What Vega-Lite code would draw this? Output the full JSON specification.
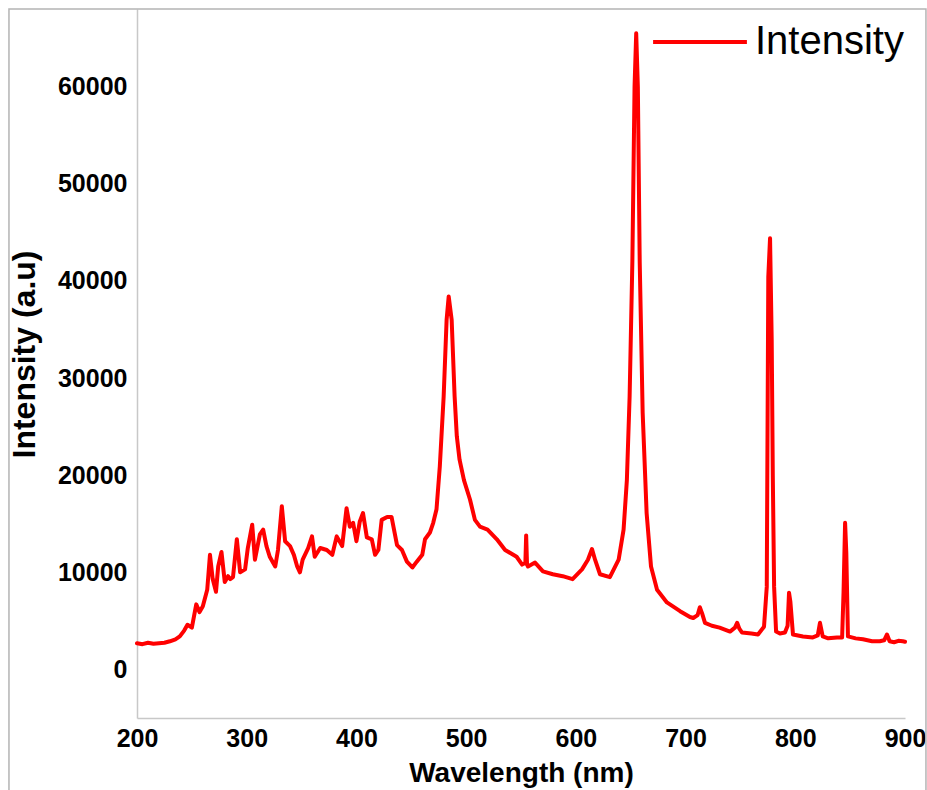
{
  "$schema": "https://vega.github.io/schema/vega-lite/v6.json",
  "width": 768,
  "height": 709,
  "autosize": {"type": "none"},
  "padding": {"left": 137, "top": 9, "right": 22, "bottom": 72},
  "background": "white",
  "config": {"view": {"stroke": null}, "font": "Liberation Sans"},
  "layer": [
    {
      "data": {"values": [{}]},
      "mark": {"type": "rect", "fill": "transparent", "stroke": "#b4b4b4", "strokeWidth": 1.5},
      "encoding": {
        "x": {"datum": 83.3, "type": "quantitative"},
        "x2": {"datum": 919.1},
        "y": {"datum": 68000, "type": "quantitative"},
        "y2": {"datum": -20000}
      }
    },
    {
      "data": {"values": [
        {"wavelength": 200, "intensity": 2700},
        {"wavelength": 205, "intensity": 2600},
        {"wavelength": 210, "intensity": 2750},
        {"wavelength": 215, "intensity": 2650},
        {"wavelength": 220, "intensity": 2700},
        {"wavelength": 225, "intensity": 2750},
        {"wavelength": 230, "intensity": 2900},
        {"wavelength": 235, "intensity": 3100},
        {"wavelength": 239, "intensity": 3400},
        {"wavelength": 243, "intensity": 4000},
        {"wavelength": 246, "intensity": 4600},
        {"wavelength": 250, "intensity": 4300},
        {"wavelength": 254, "intensity": 6700},
        {"wavelength": 257, "intensity": 5900},
        {"wavelength": 260, "intensity": 6500},
        {"wavelength": 264, "intensity": 8200},
        {"wavelength": 266.5, "intensity": 11800},
        {"wavelength": 269, "intensity": 9300},
        {"wavelength": 272, "intensity": 8000},
        {"wavelength": 274, "intensity": 10600},
        {"wavelength": 277, "intensity": 12100},
        {"wavelength": 280, "intensity": 9000},
        {"wavelength": 283, "intensity": 9600},
        {"wavelength": 285, "intensity": 9300},
        {"wavelength": 287.5, "intensity": 9500},
        {"wavelength": 291, "intensity": 13400},
        {"wavelength": 294, "intensity": 10000},
        {"wavelength": 298.5, "intensity": 10300},
        {"wavelength": 301, "intensity": 12500},
        {"wavelength": 305, "intensity": 14900},
        {"wavelength": 307.5, "intensity": 11300},
        {"wavelength": 312, "intensity": 13900},
        {"wavelength": 315, "intensity": 14400},
        {"wavelength": 318, "intensity": 12700},
        {"wavelength": 321, "intensity": 11600},
        {"wavelength": 326, "intensity": 10600},
        {"wavelength": 328.5, "intensity": 12300},
        {"wavelength": 332, "intensity": 16800},
        {"wavelength": 335, "intensity": 13200},
        {"wavelength": 339.5, "intensity": 12700},
        {"wavelength": 343, "intensity": 11800},
        {"wavelength": 346, "intensity": 10600},
        {"wavelength": 348.5, "intensity": 10000},
        {"wavelength": 351, "intensity": 11300},
        {"wavelength": 356, "intensity": 12500},
        {"wavelength": 359.5, "intensity": 13700},
        {"wavelength": 362, "intensity": 11600},
        {"wavelength": 367, "intensity": 12500},
        {"wavelength": 373, "intensity": 12300},
        {"wavelength": 378, "intensity": 11800},
        {"wavelength": 382, "intensity": 13700},
        {"wavelength": 387, "intensity": 12700},
        {"wavelength": 391, "intensity": 16600},
        {"wavelength": 394, "intensity": 14700},
        {"wavelength": 397, "intensity": 15100},
        {"wavelength": 400, "intensity": 13200},
        {"wavelength": 403, "intensity": 15200},
        {"wavelength": 406, "intensity": 16100},
        {"wavelength": 409.5, "intensity": 13600},
        {"wavelength": 414, "intensity": 13400},
        {"wavelength": 417, "intensity": 11800},
        {"wavelength": 420, "intensity": 12300},
        {"wavelength": 423, "intensity": 15400},
        {"wavelength": 428, "intensity": 15700},
        {"wavelength": 432, "intensity": 15700},
        {"wavelength": 437, "intensity": 12800},
        {"wavelength": 441.5, "intensity": 12300},
        {"wavelength": 446, "intensity": 11100},
        {"wavelength": 451, "intensity": 10500},
        {"wavelength": 455, "intensity": 11100},
        {"wavelength": 460, "intensity": 11800},
        {"wavelength": 462.5, "intensity": 13400},
        {"wavelength": 467, "intensity": 14100},
        {"wavelength": 470, "intensity": 15100},
        {"wavelength": 473, "intensity": 16500},
        {"wavelength": 476, "intensity": 20900},
        {"wavelength": 479.5, "intensity": 28100},
        {"wavelength": 482.2, "intensity": 36000},
        {"wavelength": 484.1, "intensity": 38400},
        {"wavelength": 486.8, "intensity": 36000},
        {"wavelength": 489.5, "intensity": 28100},
        {"wavelength": 491.5, "intensity": 24000},
        {"wavelength": 494, "intensity": 21600},
        {"wavelength": 498, "intensity": 19500},
        {"wavelength": 503.5, "intensity": 17500},
        {"wavelength": 508, "intensity": 15400},
        {"wavelength": 512.6, "intensity": 14700},
        {"wavelength": 519.5, "intensity": 14400},
        {"wavelength": 528, "intensity": 13400},
        {"wavelength": 535.5, "intensity": 12300},
        {"wavelength": 546, "intensity": 11600},
        {"wavelength": 551, "intensity": 10800},
        {"wavelength": 554, "intensity": 11000},
        {"wavelength": 554.7, "intensity": 13800},
        {"wavelength": 555.5, "intensity": 10800},
        {"wavelength": 556.4, "intensity": 10600},
        {"wavelength": 562.8, "intensity": 11000},
        {"wavelength": 570, "intensity": 10100},
        {"wavelength": 579, "intensity": 9800},
        {"wavelength": 588, "intensity": 9600},
        {"wavelength": 597, "intensity": 9300},
        {"wavelength": 605.6, "intensity": 10300},
        {"wavelength": 611, "intensity": 11300},
        {"wavelength": 614.7, "intensity": 12400},
        {"wavelength": 617.5, "intensity": 11300},
        {"wavelength": 622, "intensity": 9800},
        {"wavelength": 631, "intensity": 9500},
        {"wavelength": 639, "intensity": 11300},
        {"wavelength": 643.5, "intensity": 14400},
        {"wavelength": 646.5, "intensity": 19500},
        {"wavelength": 649, "intensity": 28100},
        {"wavelength": 651.5, "intensity": 42000},
        {"wavelength": 653.5, "intensity": 60000},
        {"wavelength": 655, "intensity": 65500},
        {"wavelength": 656.5, "intensity": 60000},
        {"wavelength": 658.2, "intensity": 42000},
        {"wavelength": 660.9, "intensity": 26400},
        {"wavelength": 664.5, "intensity": 16100},
        {"wavelength": 668.5, "intensity": 10600},
        {"wavelength": 674, "intensity": 8200},
        {"wavelength": 683, "intensity": 6900},
        {"wavelength": 695, "intensity": 6000},
        {"wavelength": 704, "intensity": 5400},
        {"wavelength": 707, "intensity": 5300},
        {"wavelength": 711, "intensity": 5600},
        {"wavelength": 713, "intensity": 6400},
        {"wavelength": 715, "intensity": 5800},
        {"wavelength": 717.7, "intensity": 4800},
        {"wavelength": 724, "intensity": 4500},
        {"wavelength": 731, "intensity": 4300},
        {"wavelength": 740.5, "intensity": 3900},
        {"wavelength": 745, "intensity": 4300},
        {"wavelength": 747, "intensity": 4800},
        {"wavelength": 749, "intensity": 4200},
        {"wavelength": 751.5, "intensity": 3800},
        {"wavelength": 760, "intensity": 3700},
        {"wavelength": 766, "intensity": 3600},
        {"wavelength": 771.5, "intensity": 4400},
        {"wavelength": 774, "intensity": 8500},
        {"wavelength": 775.4, "intensity": 40400},
        {"wavelength": 777, "intensity": 44400},
        {"wavelength": 778.5, "intensity": 34000},
        {"wavelength": 779.5, "intensity": 20000},
        {"wavelength": 780.7, "intensity": 8500},
        {"wavelength": 782.5, "intensity": 3900},
        {"wavelength": 786, "intensity": 3700},
        {"wavelength": 790.6, "intensity": 3800},
        {"wavelength": 793, "intensity": 4500},
        {"wavelength": 794.3, "intensity": 7900},
        {"wavelength": 795.5, "intensity": 7000},
        {"wavelength": 797.9, "intensity": 3600},
        {"wavelength": 807, "intensity": 3400},
        {"wavelength": 816, "intensity": 3300},
        {"wavelength": 820.5, "intensity": 3500},
        {"wavelength": 822.5, "intensity": 4800},
        {"wavelength": 825, "intensity": 3400},
        {"wavelength": 830, "intensity": 3200},
        {"wavelength": 838, "intensity": 3300},
        {"wavelength": 842.7, "intensity": 3300},
        {"wavelength": 844, "intensity": 8000},
        {"wavelength": 845.4, "intensity": 15100},
        {"wavelength": 846.5, "intensity": 12000},
        {"wavelength": 848, "intensity": 3400},
        {"wavelength": 855, "intensity": 3200},
        {"wavelength": 861.7, "intensity": 3100},
        {"wavelength": 870, "intensity": 2900},
        {"wavelength": 877, "intensity": 2900},
        {"wavelength": 881, "intensity": 3000},
        {"wavelength": 883.6, "intensity": 3600},
        {"wavelength": 886, "intensity": 2900},
        {"wavelength": 890, "intensity": 2800},
        {"wavelength": 894, "intensity": 2950},
        {"wavelength": 898, "intensity": 2900},
        {"wavelength": 900, "intensity": 2850}
      ]},
      "mark": {"type": "line", "strokeWidth": 4, "strokeJoin": "round", "strokeCap": "round"},
      "encoding": {
        "x": {
          "field": "wavelength",
          "type": "quantitative",
          "scale": {"domain": [200, 900], "nice": false, "zero": false},
          "axis": {
            "title": "Wavelength (nm)",
            "values": [200, 300, 400, 500, 600, 700, 800, 900],
            "ticks": false,
            "grid": false,
            "domainColor": "#c8c8c8",
            "domainWidth": 1.5,
            "labelFont": "Liberation Sans",
            "labelFontWeight": "bold",
            "labelFontSize": 25,
            "labelColor": "black",
            "labelPadding": 8,
            "labelFlush": false,
            "titleFont": "Liberation Sans",
            "titleFontSize": 28,
            "titleFontWeight": "bold",
            "titleColor": "black",
            "titlePadding": 8
          }
        },
        "y": {
          "field": "intensity",
          "type": "quantitative",
          "scale": {"domain": [-5000, 68000], "nice": false, "zero": false},
          "axis": {
            "title": "Intensity (a.u)",
            "values": [0, 10000, 20000, 30000, 40000, 50000, 60000],
            "format": "d",
            "ticks": false,
            "grid": false,
            "domainColor": "#c8c8c8",
            "domainWidth": 1.5,
            "labelFont": "Liberation Sans",
            "labelFontWeight": "bold",
            "labelFontSize": 25,
            "labelColor": "black",
            "labelPadding": 10,
            "titleFont": "Liberation Sans",
            "titleFontSize": 32,
            "titleFontWeight": "bold",
            "titleColor": "black",
            "titlePadding": 16,
            "titleY": 345
          }
        },
        "color": {
          "datum": "Intensity",
          "type": "nominal",
          "scale": {"range": ["#ff0000"]},
          "legend": {
            "title": null,
            "orient": "none",
            "legendX": 514,
            "legendY": -16,
            "padding": 0,
            "symbolType": "stroke",
            "symbolSize": 8800,
            "symbolStrokeWidth": 4,
            "labelFont": "Liberation Sans",
            "labelFontSize": 40,
            "labelFontWeight": "normal",
            "labelColor": "black",
            "labelOffset": 6,
            "labelLimit": 400
          }
        }
      }
    }
  ]
}
